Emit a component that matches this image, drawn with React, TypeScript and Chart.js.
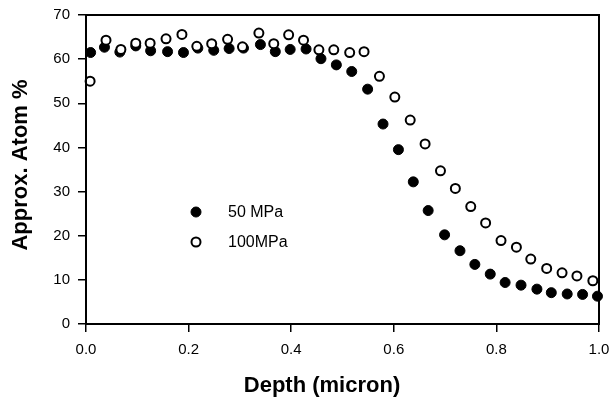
import React, { useEffect, useRef } from "react";
import { Chart, registerables } from "chart.js";

Chart.register(...registerables);

const depth50 = [0.009, 0.036, 0.066, 0.097, 0.126, 0.159, 0.19, 0.218, 0.249, 0.279, 0.307, 0.34, 0.369, 0.398, 0.429, 0.458, 0.488, 0.518, 0.549, 0.579, 0.609, 0.638, 0.667, 0.699, 0.729, 0.758, 0.788, 0.817, 0.848, 0.879, 0.907, 0.938, 0.968, 0.997];
const atom50 = [61.5, 62.7, 61.6, 63.0, 61.9, 61.7, 61.5, 62.5, 62.0, 62.4, 62.5, 63.3, 61.7, 62.2, 62.3, 60.1, 58.7, 57.2, 53.2, 45.3, 39.5, 32.2, 25.7, 20.2, 16.6, 13.5, 11.3, 9.4, 8.8, 7.9, 7.1, 6.8, 6.7, 6.3];

const depth100 = [0.008, 0.039, 0.068, 0.097, 0.125, 0.156, 0.187, 0.216, 0.245, 0.276, 0.305, 0.337, 0.366, 0.395, 0.424, 0.454, 0.483, 0.514, 0.542, 0.572, 0.602, 0.632, 0.661, 0.691, 0.72, 0.75, 0.779, 0.809, 0.839, 0.867, 0.898, 0.928, 0.957, 0.988];
const atom100 = [55.0, 64.3, 62.2, 63.6, 63.6, 64.6, 65.6, 62.9, 63.5, 64.5, 62.8, 65.9, 63.5, 65.5, 64.3, 62.1, 62.1, 61.5, 61.7, 56.1, 51.4, 46.2, 40.8, 34.7, 30.7, 26.6, 22.9, 18.9, 17.4, 14.7, 12.6, 11.6, 10.9, 9.8];

const seriesLabels = ["50 MPa", "100MPa"];
const xTitle = "Depth (micron)";
const yTitle = "Approx. Atom %";

const FONT = "'Liberation Sans', Arial, sans-serif";

const framePlugin = {
  id: "frame",
  afterDraw(chart: any) {
    const { ctx, chartArea } = chart;
    ctx.save();
    ctx.strokeStyle = "#000";
    ctx.lineWidth = 2;
    ctx.strokeRect(chartArea.left, chartArea.top, chartArea.right - chartArea.left, chartArea.bottom - chartArea.top);

    // axis titles
    ctx.fillStyle = "#000";
    ctx.font = `bold 22px ${FONT}`;
    ctx.textAlign = "center";
    ctx.textBaseline = "alphabetic";
    ctx.fillText(xTitle, 322, 392);
    ctx.save();
    ctx.translate(27, 165);
    ctx.rotate(-Math.PI / 2);
    ctx.fillText(yTitle, 0, 0);
    ctx.restore();

    // legend
    const lx = 196;
    const ly = [212, 242];
    chart.data.datasets.forEach((ds: any, i: number) => {
      ctx.beginPath();
      ctx.arc(lx, ly[i], ds.pointRadius, 0, Math.PI * 2);
      ctx.fillStyle = ds.pointBackgroundColor;
      ctx.fill();
      ctx.lineWidth = ds.pointBorderWidth;
      ctx.strokeStyle = ds.pointBorderColor;
      ctx.stroke();
      ctx.fillStyle = "#000";
      ctx.font = `16px ${FONT}`;
      ctx.textAlign = "left";
      ctx.textBaseline = "middle";
      ctx.fillText(ds.label, 228, ly[i] + 1);
    });
    ctx.restore();
  },
};

export default function App() {
  const ref = useRef<HTMLCanvasElement>(null);
  useEffect(() => {
    if (!ref.current) return;
    const chart = new Chart(ref.current, {
      type: "scatter",
      data: {
        datasets: [
          {
            label: seriesLabels[0],
            data: depth50.map((x, i) => ({ x, y: atom50[i] })),
            pointRadius: 5,
            pointBackgroundColor: "#000",
            pointBorderColor: "#000",
            pointBorderWidth: 1,
            clip: false,
            order: 1,
          } as any,
          {
            label: seriesLabels[1],
            data: depth100.map((x, i) => ({ x, y: atom100[i] })),
            pointRadius: 4.5,
            pointBackgroundColor: "#fff",
            pointBorderColor: "#000",
            pointBorderWidth: 2,
            clip: false,
            order: 0,
          } as any,
        ],
      },
      options: {
        animation: false,
        responsive: false,
        maintainAspectRatio: false,
        layout: { padding: { left: 0, top: 15, right: 13, bottom: 0 } },
        plugins: { legend: { display: false }, tooltip: { enabled: false } },
        scales: {
          x: {
            type: "linear",
            min: 0,
            max: 1,
            afterFit(scale: any) {
              scale.height = 76;
              scale.paddingLeft = 0;
              scale.paddingRight = 0;
            },
            ticks: {
              stepSize: 0.2,
              color: "#000",
              font: { family: FONT, size: 15 },
              padding: 9,
              maxRotation: 0,
              callback: (v: any) => Number(v).toFixed(1),
            },
            grid: { drawOnChartArea: false, drawTicks: true, tickLength: 8, color: "#000", lineWidth: 1.5 },
            border: { display: true, color: "#000", width: 2 },
          },
          y: {
            type: "linear",
            min: 0,
            max: 70,
            afterFit(scale: any) {
              scale.width = 86;
              scale.paddingTop = 0;
              scale.paddingBottom = 0;
            },
            ticks: {
              stepSize: 10,
              color: "#000",
              font: { family: FONT, size: 15 },
              padding: 8,
            },
            grid: { drawOnChartArea: false, drawTicks: true, tickLength: 8, color: "#000", lineWidth: 1.5 },
            border: { display: true, color: "#000", width: 2 },
          },
        },
      },
      plugins: [framePlugin],
    });
    return () => chart.destroy();
  }, []);
  return (
    <div style={{ position: "absolute", left: 0, top: 0, width: 612, height: 400, background: "#fff" }}>
      <canvas ref={ref} width={612} height={400} style={{ width: 612, height: 400 }} />
    </div>
  );
}
